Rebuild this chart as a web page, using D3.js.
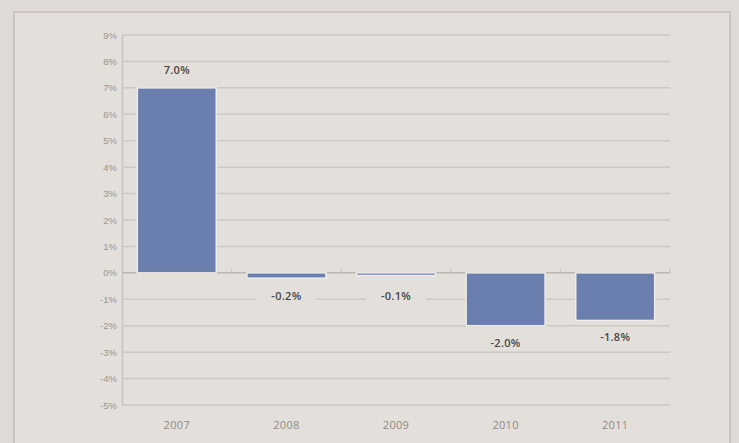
<!DOCTYPE html>
<html>
<head>
<meta charset="utf-8">
<script src="https://d3js.org/d3.v7.min.js"></script>
<style>
  body { margin: 0; background: #dfdad6; }
  svg { display: block; font-family: 'Open Sans', sans-serif; }
</style>
</head>
<body>
<svg id="chart" width="739" height="443"></svg>
<script>
// data
var years = ["2007", "2008", "2009", "2010", "2011"];
var growth = [7.0, -0.2, -0.1, -2.0, -1.8];
var yTicks = [9, 8, 7, 6, 5, 4, 3, 2, 1, 0, -1, -2, -3, -4, -5];

var svg = d3.select("#chart");

// frame around the figure
svg.append("rect")
  .attr("x", 14).attr("y", 12)
  .attr("width", 716).attr("height", 440)
  .attr("fill", "#e3dfdb")
  .attr("stroke", "#cbc6c1")
  .attr("stroke-width", 2);

var plotLeft = 122, plotRight = 670, plotTop = 35, plotBottom = 405;

var x = d3.scaleBand()
  .domain(years)
  .range([plotLeft, plotRight])
  .paddingInner(0.28)
  .paddingOuter(0.14);

var y = d3.scaleLinear()
  .domain([-5, 9])
  .range([plotBottom, plotTop]);

// gridlines
svg.append("g")
  .selectAll("line")
  .data(yTicks)
  .join("line")
  .attr("x1", plotLeft).attr("x2", plotRight)
  .attr("y1", function(d) { return y(d); })
  .attr("y2", function(d) { return y(d); })
  .attr("stroke", function(d) { return d === 0 ? "#bdb7b1" : "#cdc8c3"; })
  .attr("stroke-width", 1.5);

// y axis
var yAxis = d3.axisLeft(y)
  .tickValues(yTicks)
  .tickSize(0)
  .tickPadding(5)
  .tickFormat(function(d) { return d + "%"; });

svg.append("g")
  .attr("transform", "translate(" + plotLeft + ",0)")
  .call(yAxis)
  .call(function(g) { g.select(".domain").attr("stroke", "#c9c4bf").attr("stroke-width", 1.5); })
  .selectAll("text")
  .attr("fill", "#9a948f")
  .style("font-size", "9.5px");

// small ticks on the zero line between categories
svg.append("g")
  .selectAll("line")
  .data(years)
  .join("line")
  .attr("x1", function(d) { return x(d) + x.bandwidth() + x.step() * 0.14; })
  .attr("x2", function(d) { return x(d) + x.bandwidth() + x.step() * 0.14; })
  .attr("y1", y(0) - 4).attr("y2", y(0))
  .attr("stroke", "#c4beb8");

var labelY = function(d) {
  return d >= 0 ? y(d) - 14 : Math.max(y(d), y(0) + 6) + 21;
};

// bars
svg.append("g")
  .selectAll("rect")
  .data(growth)
  .join("rect")
  .attr("x", function(d, i) { return x(years[i]); })
  .attr("width", x.bandwidth())
  .attr("y", function(d) { return y(Math.max(0, d)); })
  .attr("height", function(d) { return Math.max(2, Math.abs(y(d) - y(0))); })
  .attr("fill", "#6a7fae")
  .attr("stroke", "#eeebe8")
  .attr("stroke-width", 1.5);

// value labels, with a background that cuts the gridlines
var labels = svg.append("g");
labels.selectAll("rect")
  .data(growth)
  .join("rect")
  .attr("x", function(d, i) { return x(years[i]) + x.bandwidth() / 2 - 30; })
  .attr("y", function(d) { return labelY(d) - 11; })
  .attr("width", 60).attr("height", 15)
  .attr("fill", "#e3dfdb");

labels.selectAll("text")
  .data(growth)
  .join("text")
  .attr("x", function(d, i) { return x(years[i]) + x.bandwidth() / 2; })
  .attr("y", function(d) { return labelY(d); })
  .attr("text-anchor", "middle")
  .attr("fill", "#4a4545")
  .style("font-size", "11px")
  .style("font-weight", "600")
  .style("letter-spacing", "0.3px")
  .text(function(d) { return d.toFixed(1) + "%"; });

// x labels
svg.append("g")
  .selectAll("text")
  .data(years)
  .join("text")
  .attr("x", function(d) { return x(d) + x.bandwidth() / 2; })
  .attr("y", 429)
  .attr("text-anchor", "middle")
  .attr("fill", "#928c87")
  .style("font-size", "11px")
  .style("letter-spacing", "0.3px")
  .text(function(d) { return d; });
</script>
</body>
</html>
